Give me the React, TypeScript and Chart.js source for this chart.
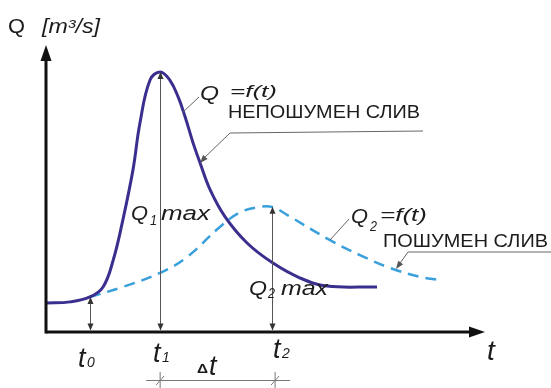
import React, { useEffect, useRef } from "react";
import { Chart, registerables } from "chart.js";
Chart.register(...registerables);

// Unforested (non-forested) catchment runoff hydrograph Q1 = f(t)
const T_SOLID = [0, 5.5, 10, 13, 15.3, 17.5, 19.8, 21.4, 23.7, 26, 28.2, 30.1, 31.7, 33.5, 35.1, 37.4, 40.8, 45.8, 51.7, 57.9, 64, 75.4];
const Q_SOLID = [10.1, 10.5, 12.2, 15.7, 25, 39, 56.4, 72.8, 87.8, 90.6, 87.8, 81.9, 74.9, 65.9, 58.9, 49.5, 40.1, 31, 24, 18.8, 16, 15.7];
// Forested catchment runoff hydrograph Q2 = f(t)
const T_DASHED = [10, 17.5, 26, 32.1, 39.6, 44, 48, 51.5, 54.9, 64.7, 71.5, 78.4, 85.2, 89.7];
const Q_DASHED = [12.2, 15.7, 20.6, 26.1, 36.6, 41.5, 43.4, 43.6, 40.8, 32, 26.8, 22.3, 19.2, 18.1];
// marker times t0, t1, t2 and the discharge at each
const T_MARKS = [10, 26, 51.5];
const Q_MARKS = [12.2, 90.6, 43.6];
const T_SUBS = ["0", "1", "2"];

const FONT = '"Liberation Sans", Arial, sans-serif';
const INK = "#1c1c1c";
const GUIDE = "#555555";

function arrowHead(ctx: CanvasRenderingContext2D, tx: number, ty: number, dx: number, dy: number, len: number, hw: number) {
  const m = Math.hypot(dx, dy);
  const ux = dx / m, uy = dy / m;
  const bx = tx - ux * len, by = ty - uy * len;
  ctx.beginPath();
  ctx.moveTo(tx, ty);
  ctx.lineTo(bx - uy * hw, by + ux * hw);
  ctx.lineTo(bx + uy * hw, by - ux * hw);
  ctx.closePath();
  ctx.fill();
}

function txt(ctx: CanvasRenderingContext2D, s: string, x: number, base: number, size: number, italic: boolean, w?: number, bold?: boolean) {
  ctx.save();
  ctx.font = `${italic ? "italic " : ""}${bold ? "bold " : ""}${size}px ${FONT}`;
  ctx.textBaseline = "alphabetic";
  ctx.textAlign = "left";
  ctx.fillStyle = INK;
  ctx.translate(x, base);
  if (w) {
    const m = ctx.measureText(s).width;
    ctx.scale(w / m, 1);
  }
  ctx.fillText(s, 0, 0);
  ctx.restore();
}

function line(ctx: CanvasRenderingContext2D, pts: number[][]) {
  ctx.beginPath();
  ctx.moveTo(pts[0][0], pts[0][1]);
  for (let i = 1; i < pts.length; i++) ctx.lineTo(pts[i][0], pts[i][1]);
  ctx.stroke();
}

const annotate = {
  id: "annotate",
  afterDatasetsDraw(chart: any) {
    const { ctx, chartArea: a, scales } = chart;
    const xs = scales.x, ys = scales.y;
    const x0 = xs.getPixelForValue(0);
    const y0 = ys.getPixelForValue(0);
    ctx.save();
    // axes
    ctx.strokeStyle = "#111";
    ctx.fillStyle = "#111";
    ctx.lineWidth = 3;
    line(ctx, [[x0, y0], [a.right - 10, y0]]);
    line(ctx, [[x0, y0 + 1.5], [x0, a.top + 10]]);
    arrowHead(ctx, a.right, y0, 1, 0, 16, 5.5);
    arrowHead(ctx, x0, a.top, 0, -1, 16, 5.5);

    // vertical guides with arrowheads
    ctx.strokeStyle = GUIDE;
    ctx.fillStyle = "#333";
    ctx.lineWidth = 1;
    T_MARKS.forEach((t, i) => {
      const px = Math.round(xs.getPixelForValue(t)) + 0.5;
      const pt = ys.getPixelForValue(Q_MARKS[i]);
      line(ctx, [[px, pt + 2], [px, y0 - 2]]);
      arrowHead(ctx, px, pt, 0, -1, 7, 3);
      arrowHead(ctx, px, y0 - 1.5, 0, 1, 7, 3);
    });

    // leader lines
    ctx.strokeStyle = "#666";
    ctx.fillStyle = "#555";
    ctx.lineWidth = 1;
    line(ctx, [[182, 113], [199, 97]]);
    line(ctx, [[202, 160], [230, 133], [423, 131]]);
    arrowHead(ctx, 200, 163, -26, 29, 8, 3);
    line(ctx, [[330, 240], [349, 219]]);
    line(ctx, [[398, 266], [408, 252], [551, 252]]);
    arrowHead(ctx, 396, 269, -10, 14, 8, 3);

    // Δt dimension line
    const p1 = xs.getPixelForValue(T_MARKS[1]);
    const p2 = xs.getPixelForValue(T_MARKS[2]) + 3;
    ctx.strokeStyle = "#777";
    line(ctx, [[p1 - 14, 380.5], [p2 + 15, 380.5]]);
    [p1, p2].forEach((p) => {
      line(ctx, [[p, 372], [p, 388]]);
      line(ctx, [[p - 4, 385], [p + 4, 376]]);
    });

    // texts
    txt(ctx, "Q", 8, 33, 20, false, 17);
    txt(ctx, "[m³/s]", 42, 33, 20, true, 58);
    txt(ctx, "Q", 200, 100, 20, true, 19);
    txt(ctx, "=f(t)", 230, 97, 17, true, 47);
    txt(ctx, "НЕПОШУМЕН СЛИВ", 228, 118, 18, false, 192);
    txt(ctx, "Q", 131, 220, 21, true, 17);
    txt(ctx, "1", 150, 225, 14, true, 7);
    txt(ctx, "max", 161, 220, 20, true, 49);
    txt(ctx, "Q", 249, 295, 21, true, 18);
    txt(ctx, "2", 268, 298, 14, true, 7);
    txt(ctx, "max", 281, 295, 20, true, 47);
    txt(ctx, "Q", 351, 223, 21, true, 17);
    txt(ctx, "2", 370, 231, 14, true, 7);
    txt(ctx, "=f(t)", 380, 221, 18, true, 47);
    txt(ctx, "ПОШУМЕН СЛИВ", 383, 247, 19, false, 165);
    txt(ctx, "t", 487, 360, 28, true);
    const tPos = [[78, 367], [153, 362], [273, 358]];
    T_SUBS.forEach((s, i) => {
      const [tx, tb] = tPos[i];
      txt(ctx, "t", tx, tb, 27, true);
      txt(ctx, s, tx + 9, tb, 14, true);
    });
    txt(ctx, "Δ", 197, 373, 13, false, 11, true);
    txt(ctx, "t", 209, 375, 27, true);
    ctx.restore();
  },
};

export default function App() {
  const ref = useRef<HTMLCanvasElement | null>(null);
  useEffect(() => {
    const prevMargin = document.body.style.margin;
    document.body.style.margin = "0";
    const chart = new Chart(ref.current as HTMLCanvasElement, {
      type: "line",
      data: {
        datasets: [
          {
            label: "Q1=f(t)",
            data: T_SOLID.map((t, i) => ({ x: t, y: Q_SOLID[i] })),
            borderColor: "#3a2e8e",
            borderWidth: 3,
            pointRadius: 0,
            tension: 0.4,
            fill: false,
            clip: false,
          },
          {
            label: "Q2=f(t)",
            data: T_DASHED.map((t, i) => ({ x: t, y: Q_DASHED[i] })),
            borderColor: "#3aa0dc",
            borderWidth: 2.5,
            borderDash: [11, 7],
            pointRadius: 0,
            tension: 0.4,
            fill: false,
            clip: false,
          },
        ],
      } as any,
      options: {
        animation: false,
        responsive: false,
        devicePixelRatio: 1,
        layout: { padding: { left: 46, right: 66, top: 45, bottom: 56 } },
        scales: {
          x: { type: "linear", min: 0, max: 100, display: false },
          y: { type: "linear", min: 0, max: 100, display: false },
        },
        plugins: { legend: { display: false }, tooltip: { enabled: false } },
      } as any,
      plugins: [annotate],
    });
    return () => {
      chart.destroy();
      document.body.style.margin = prevMargin;
    };
  }, []);
  return (
    <div style={{ position: "fixed", left: 0, top: 0, width: 551, height: 388, background: "#fff" }}>
      <canvas ref={ref} width={551} height={388} style={{ display: "block" }} />
    </div>
  );
}
